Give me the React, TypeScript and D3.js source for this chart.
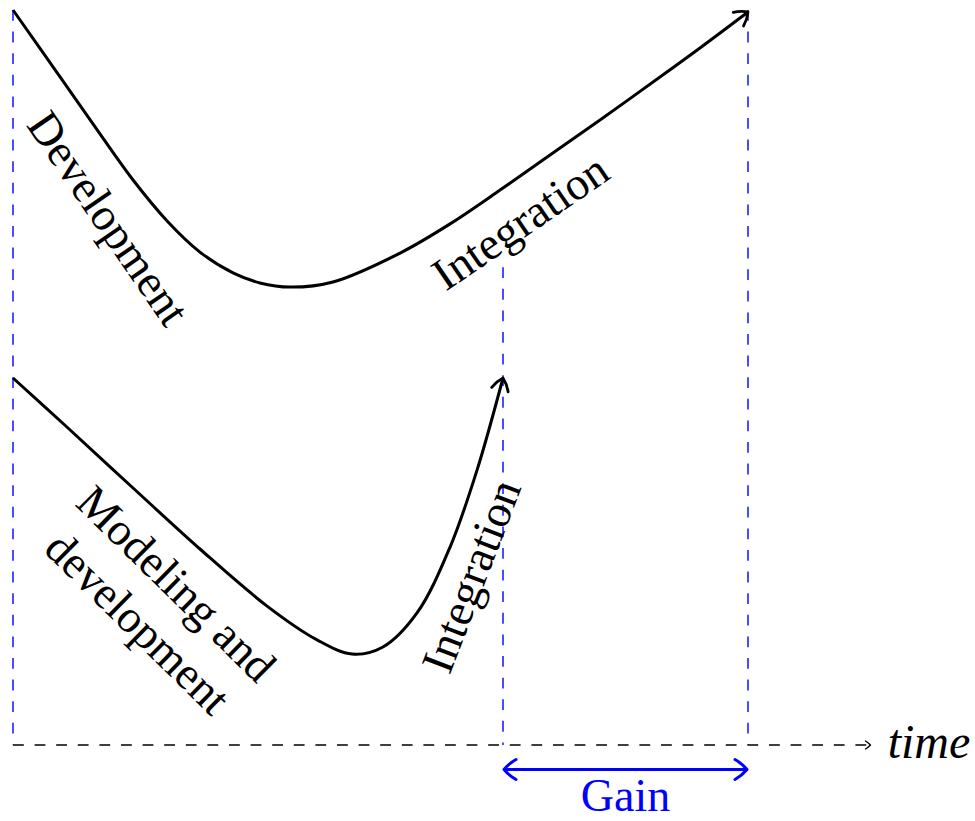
import React from 'react';
import * as d3 from 'd3';

// Diagram coordinates (units): x: 0..3, y: 0..3
const upperCurve: [number, number][] = [
  [0, 3], [0.192, 2.727], [0.355, 2.494], [0.49, 2.306], [0.629, 2.139], [0.763, 2.012],
  [0.898, 1.927], [1.008, 1.886], [1.131, 1.869], [1.306, 1.89], [1.58, 2.008],
  [1.784, 2.127], [1.988, 2.265], [2.192, 2.408], [2.396, 2.551], [2.669, 2.747],
  [2.804, 2.845], [3, 2.992],
];
const lowerCurve: [number, number][] = [
  [0, 1.498], [0.22, 1.298], [0.49, 1.049], [0.763, 0.8], [1.037, 0.567], [1.241, 0.429],
  [1.384, 0.371], [1.51, 0.4], [1.649, 0.539], [1.784, 0.808], [1.894, 1.122], [2, 1.498],
];
// vertical guides: [x, yBottom, yTop]
const guides: [number, number, number][] = [
  [0, 0, 3],
  [2, 0, 1.95],
  [3, 0, 3],
];
const axisEnd = 3.5;
const gainRange: [number, number] = [2, 3];
const labelDev = 'Development';
const labelInt = 'Integration';
const labelModeling = ['Modeling and', 'development'];
const labelGain = 'Gain';
const labelTime = 'time';

export default function App() {
  const W = 975, H = 821;
  const x = d3.scaleLinear().domain([0, 3]).range([13, 748]);
  const y = d3.scaleLinear().domain([0, 3]).range([745, 10]);
  const line = d3
    .line<[number, number]>()
    .x((d) => x(d[0]))
    .y((d) => y(d[1]))
    .curve(d3.curveCatmullRom.alpha(0.5));

  const fs = 46;
  const blue = '#0000ff';

  const label = (cx: number, cy: number, angle: number, content: React.ReactNode, key: string) => (
    <text
      key={key}
      transform={`translate(${x(cx)},${y(cy)}) rotate(${angle})`}
      textAnchor="middle"
      dominantBaseline="central"
      fontSize={fs}
      fill="#000"
    >
      {content}
    </text>
  );

  return (
    <svg
      width={W}
      height={H}
      style={{ position: 'absolute', left: 0, top: 0, background: '#fff' }}
      fontFamily="'Liberation Serif', 'Times New Roman', serif"
    >
      <defs>
        <marker id="arrBig" markerUnits="userSpaceOnUse" viewBox="-14 -12 16 24" markerWidth={16} markerHeight={24} refX={0} refY={0} orient="auto">
          <path d="M -12,-8.5 Q -5,-5.5 0,0 Q -5,5.5 -12,8.5" fill="none" stroke="#000" strokeWidth={2.8} strokeLinecap="round" strokeLinejoin="round" />
        </marker>
        <marker id="arrGain" markerUnits="userSpaceOnUse" viewBox="-15 -13 17 26" markerWidth={17} markerHeight={26} refX={0} refY={0} orient="auto-start-reverse">
          <path d="M -12,-10 Q -5,-6 0,0 Q -5,6 -12,10" fill="none" stroke={blue} strokeWidth={3} strokeLinecap="round" strokeLinejoin="round" />
        </marker>
        <marker id="arrSmall" markerUnits="userSpaceOnUse" viewBox="-8 -6 10 12" markerWidth={10} markerHeight={12} refX={0} refY={0} orient="auto">
          <path d="M -5,-4 Q -2.5,-2.5 0,0 Q -2.5,2.5 -5,4" fill="none" stroke="#000" strokeWidth={1.4} strokeLinecap="round" strokeLinejoin="round" />
        </marker>
      </defs>

      {guides.map(([gx, y0, y1], i) => (
        <line
          key={i}
          x1={x(gx)}
          x2={x(gx)}
          y1={y(y1)}
          y2={y(y0)}
          stroke={blue}
          strokeWidth={1.4}
          strokeDasharray="10.8 10.8"
        />
      ))}

      <line x1={x(0)} x2={x(axisEnd)} y1={y(0)} y2={y(0)} stroke="#000" strokeWidth={1.4} strokeDasharray="10.8 10.8" markerEnd="url(#arrSmall)" />

      <path d={line(upperCurve) || ''} fill="none" stroke="#000" strokeWidth={3} markerEnd="url(#arrBig)" />
      <path d={line(lowerCurve) || ''} fill="none" stroke="#000" strokeWidth={3} markerEnd="url(#arrBig)" />

      <line
        x1={x(gainRange[0]) + 1}
        x2={x(gainRange[1]) - 1}
        y1={y(-0.1)}
        y2={y(-0.1)}
        stroke={blue}
        strokeWidth={3}
        markerStart="url(#arrGain)"
        markerEnd="url(#arrGain)"
      />
      <text x={x((gainRange[0] + gainRange[1]) / 2)} y={y(-0.268)} textAnchor="middle" fontSize={fs} fill={blue}>
        {labelGain}
      </text>
      <text x={x(3.57)} y={y(-0.053)} fontSize={fs + 2} fontStyle="italic" fill="#000">
        {labelTime}
      </text>

      {label(0.39, 2.15, 55.5, labelDev, 'dev')}
      {label(2.07, 2.135, -34.5, labelInt, 'int1')}
      {label(1.87, 0.69, -69, labelInt, 'int2')}
      {label(
        0.59,
        0.58,
        44.5,
        <>
          <tspan x={0} dy="-0.6em">{labelModeling[0]}</tspan>
          <tspan x={0} dy="1.2em">{labelModeling[1]}</tspan>
        </>,
        'mod'
      )}
    </svg>
  );
}
